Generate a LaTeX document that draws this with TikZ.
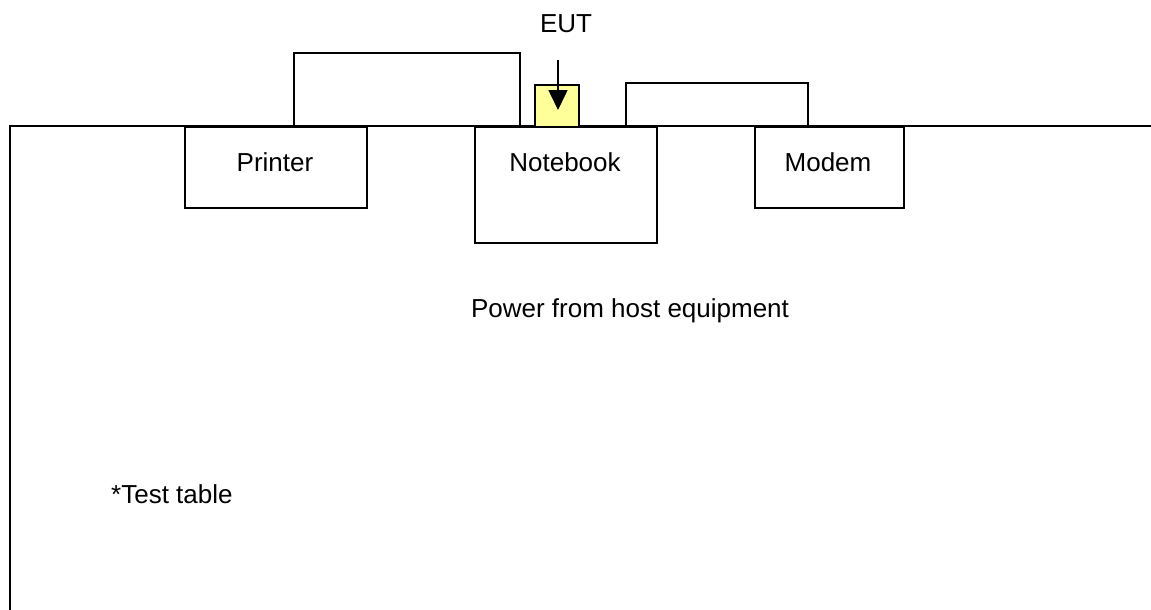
\documentclass[tikz,border=0pt]{standalone}
\usepackage{fontspec}
\setmainfont{Liberation Sans}
\usetikzlibrary{arrows.meta}
\definecolor{eutyellow}{HTML}{FFFF99}
\begin{document}
\begin{tikzpicture}[x=1pt,y=-1pt,
  ln/.style={line width=1.6pt},
  box/.style={draw,line width=1.6pt,fill=white,inner sep=0pt},
  txt/.style={font=\fontsize{26}{30}\selectfont,inner sep=0pt,anchor=base}]
\useasboundingbox (0,0) rectangle (1151,610);
% table
\draw[ln] (1152,126) -- (10,126) -- (10,611);
% cables
\coordinate (c1a) at (294,126);
\coordinate (c1b) at (520,126);
\coordinate (c2a) at (626,126);
\coordinate (c2b) at (808,126);
\draw[ln] (c1a) |- (520,53) -- (c1b);
\draw[ln] (c2a) |- (808,83) -- (c2b);
% boxes
\node[box,minimum width=182,minimum height=81,anchor=north west] (printer) at (184,126) {};
\node[box,minimum width=182,minimum height=116,anchor=north west] (notebook) at (474,126) {};
\node[box,minimum width=149,minimum height=81,anchor=north west] (modem) at (754,126) {};
\node[draw,line width=1.6pt,fill=eutyellow,minimum width=44,minimum height=42,anchor=north west,inner sep=0pt] (eut) at (534,84) {};
% labels
\node[txt] at (275,171) {Printer};
\node[txt] at (565,171) {Notebook};
\node[txt] at (828,171) {Modem};
\node[txt] (eutlabel) at (566,33) {EUT};
\coordinate (arrstart) at (558,60);
\coordinate (arrend) at (558,110);
\draw[line width=1.6pt,-{Triangle[width=19pt,length=20pt]}] (arrstart) -- (arrend);
\node[txt] at (630,317) {Power from host equipment};
\node[txt,anchor=base west] at (111,503) {*Test table};
\end{tikzpicture}
\end{document}
